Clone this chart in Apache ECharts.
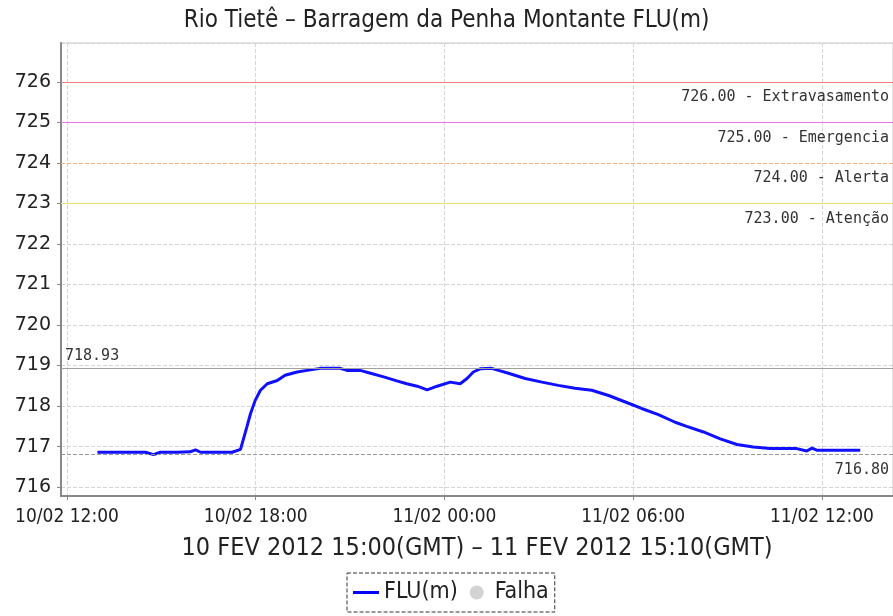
<!DOCTYPE html>
<html>
<head>
<meta charset="utf-8">
<title>Rio Tietê - Barragem da Penha Montante</title>
<script src="https://cdn.jsdelivr.net/npm/echarts@6/dist/echarts.min.js"></script>
<style>
  html, body { margin: 0; padding: 0; background: #fff; }
  #chart { width: 893px; height: 616px; }
</style>
</head>
<body>
<div id="chart"></div>
<script>
// leituras do nível (horário local, gravado como UTC para formatar igual)
const times = [
  "2012-02-10T12:58Z", "2012-02-10T13:30Z", "2012-02-10T14:00Z", "2012-02-10T14:30Z",
  "2012-02-10T14:45Z", "2012-02-10T14:58Z", "2012-02-10T15:30Z", "2012-02-10T15:55Z",
  "2012-02-10T16:05Z", "2012-02-10T16:15Z", "2012-02-10T16:45Z", "2012-02-10T17:15Z",
  "2012-02-10T17:31Z", "2012-02-10T17:43Z", "2012-02-10T17:50Z", "2012-02-10T17:59Z",
  "2012-02-10T18:09Z", "2012-02-10T18:22Z", "2012-02-10T18:41Z", "2012-02-10T18:56Z",
  "2012-02-10T19:19Z", "2012-02-10T19:38Z", "2012-02-10T20:03Z", "2012-02-10T20:41Z",
  "2012-02-10T20:54Z", "2012-02-10T21:19Z", "2012-02-10T21:39Z", "2012-02-10T22:04Z",
  "2012-02-10T22:29Z", "2012-02-10T22:48Z", "2012-02-10T23:08Z", "2012-02-10T23:27Z",
  "2012-02-10T23:46Z", "2012-02-11T00:11Z", "2012-02-11T00:30Z", "2012-02-11T00:43Z",
  "2012-02-11T00:55Z", "2012-02-11T01:08Z", "2012-02-11T01:11Z", "2012-02-11T01:30Z",
  "2012-02-11T01:43Z", "2012-02-11T02:02Z", "2012-02-11T02:34Z", "2012-02-11T03:06Z",
  "2012-02-11T03:37Z", "2012-02-11T04:09Z", "2012-02-11T04:41Z", "2012-02-11T05:13Z",
  "2012-02-11T05:45Z", "2012-02-11T06:16Z", "2012-02-11T06:48Z", "2012-02-11T07:20Z",
  "2012-02-11T07:42Z", "2012-02-11T08:14Z", "2012-02-11T08:46Z", "2012-02-11T09:18Z",
  "2012-02-11T09:49Z", "2012-02-11T10:21Z", "2012-02-11T11:12Z", "2012-02-11T11:31Z",
  "2012-02-11T11:41Z", "2012-02-11T11:50Z", "2012-02-11T12:30Z", "2012-02-11T13:13Z"
];
const fluValues = [
  716.86, 716.86, 716.86, 716.86, 716.80, 716.86, 716.86, 716.87,
  716.92, 716.86, 716.86, 716.86, 716.93, 717.48, 717.81, 718.14,
  718.39, 718.55, 718.63, 718.76, 718.84, 718.88, 718.93, 718.93,
  718.88, 718.88, 718.81, 718.72, 718.62, 718.55, 718.49, 718.40,
  718.49, 718.59, 718.55, 718.68, 718.84, 718.92, 718.93, 718.93,
  718.88, 718.81, 718.68, 718.59, 718.51, 718.44, 718.39, 718.26,
  718.10, 717.94, 717.79, 717.60, 717.50, 717.36, 717.19, 717.05,
  716.99, 716.95, 716.95, 716.89, 716.96, 716.91, 716.91, 716.91
];

// cotas de referência
const thresholdValues = [726, 725, 724, 723];
const thresholdNames = ["Extravasamento", "Emergencia", "Alerta", "Atenção"];
const thresholdColors = ["#f07a7a", "#f070f0", "#f8b07a", "#ece070"];
const maxValue = 718.93;
const minValue = 716.80;

const xMin = "2012-02-10T11:48:36Z";
const xMax = "2012-02-11T14:15:30Z";
const yMin = 715.78;
const yMax = 726.96;

const narrow = "'Liberation Sans Narrow', 'DejaVu Sans Condensed', sans-serif";

const chart = echarts.init(document.getElementById("chart"));

const fmt2 = (v) => v.toFixed(2);

const markLines = thresholdValues.map((v, i) => ({
  yAxis: v,
  lineStyle: { color: thresholdColors[i], type: i === 2 ? "dashed" : "solid", width: 1 },
  label: { formatter: fmt2(v) + " - " + thresholdNames[i], position: "insideEndBottom" },
}));
markLines.push({
  yAxis: maxValue,
  lineStyle: { color: "#a0a0a0", type: "solid", width: 1 },
  label: { formatter: fmt2(maxValue), position: "insideStartTop", distance: [4, 5] },
});
markLines.push({
  yAxis: minValue,
  lineStyle: { color: "#999", type: "dashed", width: 1 },
  label: { formatter: fmt2(minValue), position: "insideEndBottom" },
});

const option = {
  useUTC: true,
  animation: false,
  title: {
    text: "Rio Tietê – Barragem da Penha Montante FLU(m)",
    left: "center",
    top: 4,
    textStyle: {
      fontFamily: narrow,
      fontSize: 24,
      fontWeight: "normal",
      color: "#222",
    },
  },
  grid: {
    left: 61,
    right: 0,
    top: 43,
    bottom: 120,
    show: true,
    borderColor: "#c8c8c8",
    borderWidth: 1,
  },
  legend: {
    bottom: 4,
    left: 347,
    padding: [8, 6],
    itemGap: 12,
    itemWidth: 26,
    itemHeight: 14,
    borderColor: "#333",
    borderWidth: 1,
    borderType: "dashed",
    backgroundColor: "#fff",
    textStyle: {
      fontFamily: narrow,
      fontSize: 23,
      color: "#222",
    },
    data: [
      { name: "FLU(m)", icon: "path://M0,0L26,0L26,3L0,3Z" },
      { name: "Falha", icon: "circle" },
    ],
  },
  xAxis: {
    type: "time",
    min: xMin,
    max: xMax,
    minInterval: 7 * 3600 * 1000,
    maxInterval: 7 * 3600 * 1000,
    name: "10 FEV 2012 15:00(GMT) – 11 FEV 2012 15:10(GMT)",
    nameLocation: "middle",
    nameGap: 40,
    nameTextStyle: {
      fontFamily: narrow,
      fontSize: 25,
      color: "#222",
    },
    axisLine: { lineStyle: { color: "#888", width: 2 } },
    axisTick: { show: true, length: 4, lineStyle: { color: "#888" } },
    splitLine: { show: true, lineStyle: { color: "#d4d4d4", type: "dashed" } },
    axisLabel: {
      showMinLabel: false,
      showMaxLabel: false,
      margin: 12,
      fontFamily: narrow,
      fontSize: 19,
      color: "#222",
      formatter: (val) => echarts.time.format(val, "{dd}/{MM} {HH}:{mm}", true),
    },
  },
  yAxis: {
    type: "value",
    min: yMin,
    max: yMax,
    splitNumber: 11,
    axisLine: { show: true, lineStyle: { color: "#888", width: 2 } },
    axisTick: { show: true, length: 4, lineStyle: { color: "#888" } },
    splitLine: { show: true, lineStyle: { color: "#d4d4d4", type: "dashed" } },
    axisLabel: {
      showMinLabel: false,
      showMaxLabel: false,
      margin: 10,
      fontFamily: "'DejaVu Sans', sans-serif",
      fontSize: 19,
      color: "#222",
      formatter: (v) => (Number.isInteger(Math.round(v * 100) / 100) ? String(v) : ""),
    },
  },
  series: [
    {
      name: "FLU(m)",
      type: "line",
      data: times.map((t, i) => [t, fluValues[i]]),
      showSymbol: false,
      color: "#0000ff",
      lineStyle: { width: 3, color: "#1010ff" },
      markLine: {
        silent: true,
        symbol: "none",
        label: {
          fontFamily: "'DejaVu Sans Mono', monospace",
          fontSize: 15,
          color: "#333",
          distance: [4, 8],
        },
        data: markLines,
      },
    },
    {
      name: "Falha",
      type: "scatter",
      data: [],
      color: "#c8c8c8",
    },
  ],
};

chart.setOption(option);
window.addEventListener("resize", () => {
  chart.resize();
});
</script>
</body>
</html>
